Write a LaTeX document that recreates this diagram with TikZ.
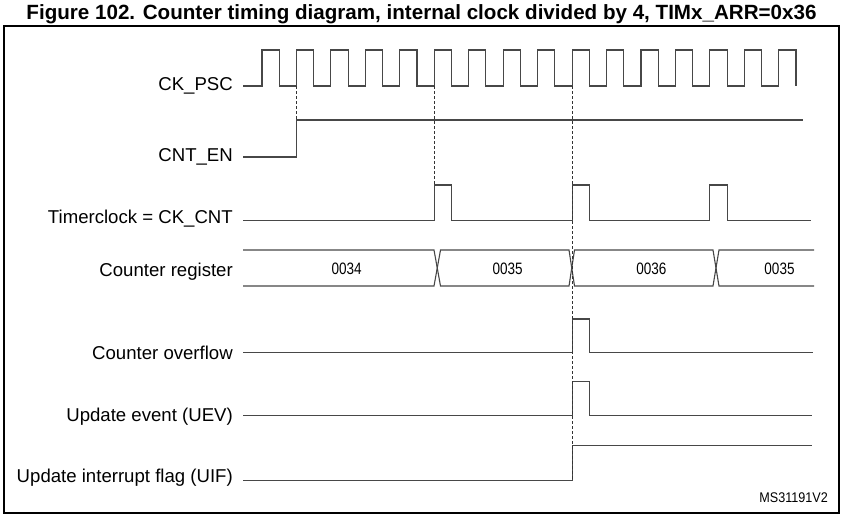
\documentclass[tikz,border=0pt]{standalone}
\usepackage{fontspec}
\setmainfont{Liberation Sans}
\newfontfamily\narrowfont[FakeStretch=0.82]{Liberation Sans}
\newfontfamily\refont[FakeStretch=0.9]{Liberation Sans}
\begin{document}
\begin{tikzpicture}[x=1pt,y=-1pt,
	sig/.style={draw=black!72,line width=1.1pt},
	guide/.style={draw=black!80,line width=0.8pt,dash pattern=on 3pt off 2pt},
	sig label/.style={anchor=base east,inner sep=0pt,font=\fontsize{18.6}{20}\selectfont},
	reg value/.style={anchor=base,inner sep=0pt,font=\narrowfont\fontsize{16.5}{18}\selectfont}]
	
	\useasboundingbox (0,0) rectangle (845,519);
	\draw[line width=1.3pt] (4,26) rectangle (839,513);
	\node[anchor=base,inner sep=0pt,font=\bfseries\fontsize{20.6}{22}\selectfont] (title) at (421.5,19.5)
	{Figure 102. Counter timing diagram, internal clock divided by 4, TIMx\_ARR=0x36};
	
	% signal names
	\node[sig label] (psc) at (233,90) {CK\_PSC};
	\node[sig label] (en) at (233,161.5) {CNT\_EN};
	\node[sig label] (cnt) at (233,223.3) {Timerclock = CK\_CNT};
	\node[sig label] (reg) at (233,276) {Counter register};
	\node[sig label] (ovf) at (233,359.3) {Counter overflow};
	\node[sig label] (uev) at (233,421.6) {Update event (UEV)};
	\node[sig label] (uif) at (233,482.7) {Update interrupt flag (UIF)};
	\node[anchor=base east,inner sep=0pt,font=\refont\fontsize{14}{16}\selectfont] (ref) at (828,502.7) {MS31191V2};
	
	% clock edges used by the guides
	\coordinate (r1) at ({262+34.45*1},86);
	\coordinate (r5) at ({262+34.45*5},86);
	\coordinate (r9) at ({262+34.45*9},86);
	
	% CK_PSC
	\draw[sig] (243,86) foreach \k in {0,...,15} {
		-- ({262+34.45*\k},86) -- ({262+34.45*\k},50)
		-- ({279.2+34.45*\k},50) -- ({279.2+34.45*\k},86)};
	% CNT_EN
	\draw[sig] (243,157) -- (r1 |- 0,157) -- (r1 |- 0,120) -- (802.7,120);
	% Timerclock
	\draw[sig] (243,220.5) foreach \k in {5,9,13} {
		-- ({262+34.45*\k},220.5) -- ++(0,-35.5) -- ++(17.2,0) -- ++(0,35.5)} -- (811,220.5);
	% Counter register
	\draw[sig] (243,250) -- (434,250) -- (440.5,286) -- (569,286) -- (574.5,250) -- (713,250) -- (719,286) -- (814,286);
	\draw[sig] (243,286) -- (434,286) -- (440.5,250) -- (569,250) -- (574.5,286) -- (713,286) -- (719,250) -- (814,250);
	\node[reg value] (v34) at (346.7,274.3) {0034};
	\node[reg value] (v35) at (507.7,274.3) {0035};
	\node[reg value] (v36) at (651.3,274.3) {0036};
	\node[reg value] (v35b) at (779.5,274.3) {0035};
	% Counter overflow, UEV, UIF
	\draw[sig] (243,352.7) -- (r9 |- 0,352.7) -- (r9 |- 0,319) -- ++(17,0) -- ++(0,33.7) -- (812.7,352.7);
	\draw[sig] (243,415.7) -- (r9 |- 0,415.7) -- (r9 |- 0,381.3) -- ++(17,0) -- ++(0,34.4) -- (812,415.7);
	\draw[sig] (243,480.3) -- (r9 |- 0,480.3) -- (r9 |- 0,445.7) -- (812,445.7);
	
	% guides
	\draw[guide] (r1) -- (r1 |- 0,120);
	\draw[guide] (r5) -- (r5 |- 0,185);
	\draw[guide] (r9) -- (r9 |- 0,480.3);
\end{tikzpicture}
\end{document}
